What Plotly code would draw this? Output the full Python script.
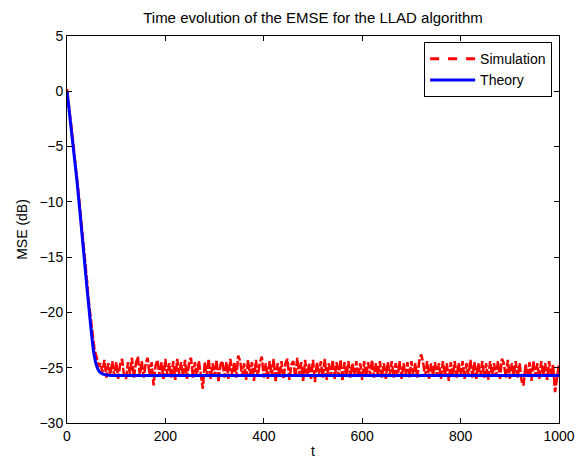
import plotly.graph_objects as go

# Simulation (sampled every 4 iterations)
sim_t = list(range(0, 1001, 4))
sim_decay = [0.2, -1.2, -2.9, -4.4, -6.1, -7.6, -9.4, -11.3, -13.0, -15.0,
             -16.8, -18.9, -20.6, -21.8, -23.4, -24.0, -24.9, -24.6]
sim_steady = [
    -25.4, -24.3, -25.9, -24.6, -25.7, -24.4, -25.8, -24.5, -26.0, -24.7,
    -24.2, -25.8, -26.0, -24.5, -25.6, -24.1, -25.9, -24.6, -24.0, -25.7,
    -24.4, -25.9, -24.6, -24.1, -25.8, -24.5, -26.6, -24.8, -24.3, -25.8,
    -24.5, -26.0, -24.2, -25.7, -24.6, -25.9, -24.4, -26.1, -24.2, -25.6,
    -24.5, -25.8, -24.3, -26.0, -24.6, -24.1, -25.9, -24.5, -25.7, -24.4,
    -25.9, -26.9, -24.5, -25.8, -24.2, -26.0, -24.6, -25.8, -24.3, -26.3,
    -24.7, -24.4, -25.9, -24.5, -26.0, -24.2, -25.7, -24.5, -25.9, -23.9,
    -24.4, -25.8, -24.6, -26.1, -24.3, -25.7, -24.5, -26.2, -24.3, -25.8,
    -24.5, -24.0, -25.9, -24.6, -26.0, -24.4, -25.8, -24.2, -26.3, -24.6,
    -25.8, -24.4, -26.0, -24.6, -24.2, -26.1, -24.7, -24.4, -25.9, -24.1,
    -25.7, -24.5, -26.2, -24.3, -25.8, -24.6, -26.0, -24.3, -26.3, -24.5,
    -25.7, -24.4, -25.9, -24.2, -26.1, -24.6, -25.8, -24.3, -26.0, -24.5,
    -25.8, -24.3, -26.2, -24.5, -25.7, -24.4, -25.9, -24.6, -25.7, -24.4,
    -25.9, -24.6, -26.1, -24.4, -25.8, -24.5, -25.7, -24.3, -25.9, -24.6,
    -25.7, -24.4, -25.9, -24.6, -26.0, -24.5, -25.7, -24.4, -25.9, -24.6,
    -25.8, -24.4, -26.0, -24.6, -25.7, -24.5, -25.9, -24.4, -25.7, -24.6,
    -25.9, -24.4, -23.8, -24.6, -25.8, -24.4, -26.0, -24.6, -25.7, -24.5,
    -25.8, -24.6, -26.0, -24.4, -25.7, -24.6, -26.2, -24.5, -25.8, -24.4,
    -25.9, -24.6, -25.7, -24.4, -26.0, -24.6, -25.7, -24.3, -25.9, -24.5,
    -26.0, -24.6, -25.8, -24.4, -25.9, -24.6, -26.1, -24.4, -25.7, -24.6,
    -25.8, -24.4, -26.0, -24.2, -24.6, -25.9, -24.3, -26.0, -24.6, -25.7,
    -24.4, -25.9, -24.6, -26.2, -26.6, -24.7, -25.8, -24.5, -26.2, -24.4,
    -25.8, -24.6, -26.0, -24.4, -25.7, -24.6, -26.1, -24.4, -25.8, -24.7,
    -27.2, -25.8, -24.6,
]
sim_mse = sim_decay + sim_steady

# Theory
theory_t = [0, 5, 10, 15, 20, 25, 30, 35, 40, 45, 50, 55, 60, 65, 70, 75, 80, 90, 100, 1000]
theory_mse = [0.0, -2.0, -4.0, -6.0, -8.0, -10.3, -12.7, -15.1, -17.5, -19.8,
              -22.0, -23.8, -24.8, -25.3, -25.5, -25.6, -25.65, -25.7, -25.7, -25.7]

x_ticks = [0, 200, 400, 600, 800, 1000]
y_ticks = [-30, -25, -20, -15, -10, -5, 0, 5]

fig = go.Figure()
fig.add_trace(go.Scatter(x=sim_t, y=sim_mse, mode="lines", name="Simulation",
                         legendgroup="sim", showlegend=False,
                         line=dict(color="#ff0000", width=2.5, dash="9px,2px")))
fig.add_trace(go.Scatter(x=theory_t, y=theory_mse, mode="lines", name="Theory",
                         showlegend=False,
                         line=dict(color="#0000ff", width=3), line_shape="spline"))
# legend entries
fig.add_trace(go.Scatter(x=[None], y=[None], mode="lines", name="Simulation",
                         legendgroup="sim",
                         line=dict(color="#ff0000", width=3, dash="dash")))
fig.add_trace(go.Scatter(x=[None], y=[None], mode="lines", name="Theory",
                         line=dict(color="#0000ff", width=3)))

font = "Liberation Sans, Arial, sans-serif"
fs = 15
axis_common = dict(showgrid=False, zeroline=False, showline=True, linecolor="black",
                   linewidth=1, mirror="ticks", ticks="inside", ticklen=5,
                   tickcolor="black", automargin=False,
                   tickfont=dict(size=14, color="black", family=font))
fig.update_layout(
    width=584, height=462,
    margin=dict(l=67, r=25, t=36, b=39),
    paper_bgcolor="white", plot_bgcolor="white",
    title=dict(text="Time evolution of the EMSE for the LLAD algorithm",
               x=0.5, xref="paper", xanchor="center", y=1 - 18 / 462, yanchor="middle",
               font=dict(size=fs, color="black", family=font)),
    xaxis=dict(range=[0, 1000], tickvals=x_ticks,
               title=dict(text="t", standoff=3, font=dict(size=14, color="black", family=font)),
               **axis_common),
    yaxis=dict(range=[-30, 5], tickvals=y_ticks,
               title=dict(text="MSE (dB)", standoff=8, font=dict(size=14, color="black", family=font)),
               **axis_common),
    legend=dict(x=0.986, y=0.984, xanchor="right", yanchor="top",
                bgcolor="white", bordercolor="black", borderwidth=1,
                font=dict(size=14, color="black", family=font),
                tracegroupgap=0, itemwidth=45),
    showlegend=True,
)

fig.write_html("out.html")
